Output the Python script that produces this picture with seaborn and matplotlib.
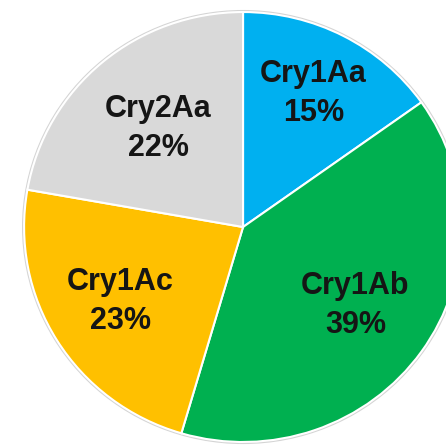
import matplotlib
matplotlib.use('Agg')
import matplotlib.pyplot as plt
import numpy as np
import seaborn as sns

# Data
names = ['Cry1Aa', 'Cry1Ab', 'Cry1Ac', 'Cry2Aa']
shares = [15, 39, 23, 22]
colors = ['#00B0F0', '#00B050', '#FFC000', '#D9D9D9']

# how far out each label sits (fraction of radius)
label_dist = [0.70, 0.63, 0.66, 0.60]

sns.set_theme(style='white')
plt.rcParams['font.family'] = ['Liberation Sans', 'DejaVu Sans']

fig = plt.figure(figsize=(4.46, 4.45), dpi=100)
ax = fig.add_axes([0, 0, 1, 1])

# soft gray halo behind the pie
halo = plt.Circle((0, 0), 1.0, facecolor='none', edgecolor='#b8b8b8', lw=3, alpha=0.6, zorder=0)
ax.add_patch(halo)

wedges, texts, autotexts = ax.pie(
    shares,
    colors=colors,
    startangle=90,
    counterclock=False,
    autopct='%.0f%%',
    wedgeprops=dict(edgecolor='white', linewidth=1.5),
    textprops=dict(fontsize=22, fontweight='bold', color='#151515'),
)
for w, t, name, d in zip(wedges, autotexts, names, label_dist):
    mid = np.deg2rad((w.theta1 + w.theta2) / 2)
    t.set_position((d * np.cos(mid), d * np.sin(mid)))
    t.set_text(f'{name}\n{t.get_text()}')
    t.set_linespacing(1.4)

# pie is cropped by the figure edges, like the reference
ax.set_aspect('auto')
ax.set_xlim(-1.110, 0.927)
ax.set_ylim(-1.014, 1.056)
ax.axis('off')

fig.savefig('out.png', dpi=100)
